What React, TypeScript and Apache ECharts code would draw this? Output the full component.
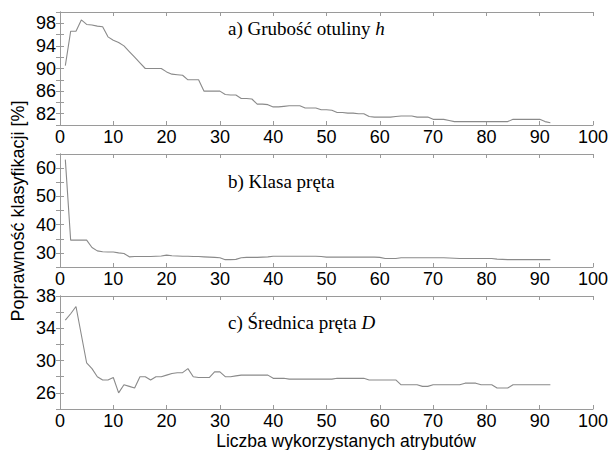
import React, { useEffect, useRef } from "react";
import * as echarts from "echarts";

const xValues = Array.from({ length: 92 }, (_, i) => i + 1);

const seriesA = [
  90.5, 96.6, 96.6, 98.6, 97.8, 97.7, 97.5, 97.4, 95.6, 95.0,
  94.6, 94.0, 93.0, 92.0, 91.0, 90.0, 90.0, 90.0, 90.0, 89.4,
  89.0, 88.9, 88.8, 88.0, 88.0, 88.0, 86.0, 86.0, 86.0, 86.0,
  85.4, 85.3, 85.3, 84.7, 84.7, 84.6, 83.7, 83.7, 83.6, 83.2,
  83.2, 83.3, 83.4, 83.4, 83.4, 83.0, 83.0, 83.0, 82.7, 82.7,
  82.6, 82.2, 82.2, 82.1, 82.1, 82.0, 82.0, 81.5, 81.4, 81.4,
  81.4, 81.4, 81.5, 81.6, 81.6, 81.6, 81.4, 81.4, 81.4, 81.0,
  81.0, 81.0, 80.8, 80.6, 80.6, 80.6, 80.6, 80.6, 80.6, 80.6,
  80.6, 80.6, 80.6, 80.6, 81.0, 81.0, 81.0, 81.0, 81.0, 81.0,
  80.6, 80.4,
];

const seriesB = [
  63.0, 34.5, 34.5, 34.5, 34.5, 31.9, 30.7, 30.4, 30.3, 30.3,
  30.0, 29.8, 28.6, 28.7, 28.7, 28.7, 28.7, 28.8, 28.9, 29.2,
  29.0, 28.9, 28.8, 28.8, 28.7, 28.7, 28.6, 28.5, 28.4, 28.3,
  27.6, 27.6, 27.7, 28.3, 28.4, 28.4, 28.4, 28.5, 28.6, 28.8,
  28.8, 28.8, 28.8, 28.8, 28.8, 28.8, 28.8, 28.8, 28.7, 28.5,
  28.5, 28.5, 28.5, 28.5, 28.5, 28.5, 28.5, 28.5, 28.5, 28.4,
  28.0, 28.0, 28.0, 28.3, 28.3, 28.3, 28.3, 28.3, 28.3, 28.3,
  28.3, 28.3, 28.2, 28.1, 28.0, 28.0, 28.0, 28.0, 28.0, 28.0,
  28.0, 27.8, 27.7, 27.6, 27.6, 27.6, 27.6, 27.6, 27.6, 27.6,
  27.6, 27.6,
];

const seriesC = [
  35.0, 35.8, 36.7, 33.2, 29.7, 29.0, 28.0, 27.6, 27.6, 27.9,
  26.0, 27.0, 26.8, 26.6, 28.0, 28.0, 27.6, 28.0, 28.0, 28.2,
  28.4, 28.5, 28.5, 29.0, 28.0, 27.9, 27.9, 27.9, 28.6, 28.6,
  28.0, 28.0, 28.1, 28.2, 28.2, 28.2, 28.2, 28.2, 28.2, 27.8,
  27.8, 27.8, 27.7, 27.7, 27.7, 27.7, 27.7, 27.7, 27.7, 27.7,
  27.7, 27.8, 27.8, 27.8, 27.8, 27.8, 27.8, 27.6, 27.6, 27.6,
  27.6, 27.6, 27.6, 27.0, 27.0, 27.0, 27.0, 26.8, 26.8, 27.0,
  27.0, 27.0, 27.0, 27.0, 27.0, 27.2, 27.2, 27.2, 27.0, 27.0,
  27.0, 26.6, 26.6, 26.6, 27.0, 27.0, 27.0, 27.0, 27.0, 27.0,
  27.0, 27.0,
];

const panelTitles = ["a) Grubość otuliny ", "b) Klasa pręta", "c) Średnica pręta "];
const panelItalic = ["h", "", "D"];
const yRanges = [
  { min: 80, max: 100, interval: 2, labelStart: 82, labelStep: 4 },
  { min: 25, max: 65, interval: 5, labelStart: 30, labelStep: 10 },
  { min: 24, max: 38, interval: 2, labelStart: 26, labelStep: 4 },
];
const xTitle = "Liczba wykorzystanych atrybutów";
const yTitle = "Poprawność klasyfikacji [%]";

export default function App() {
  const ref = useRef<HTMLDivElement>(null);
  useEffect(() => {
    if (!ref.current) return;
    const chart = echarts.init(ref.current, null, { renderer: "svg" });
    const axisColor = "#9a9a9a";
    const font = "Liberation Sans, Arial, sans-serif";
    const serif = "Liberation Serif, Times New Roman, serif";
    const tops = [12, 154, 296];
    const titleYs = [28, 181, 322];
    const grids = tops.map((t) => ({ left: 60, right: 22, top: t, height: 113 }));
    const datasets = [seriesA, seriesB, seriesC];
    const xAxis: any[] = [];
    const yAxis: any[] = [];
    const series: any[] = [];
    grids.forEach((_, i) => {
      const yr = yRanges[i];
      xAxis.push({
        type: "value", gridIndex: i, min: 0, max: 100, interval: 10, position: "bottom",
        axisLine: { show: true, lineStyle: { color: axisColor } },
        axisTick: { show: true, inside: true, length: 4, lineStyle: { color: axisColor } },
        axisLabel: { color: "#000", fontSize: 18, fontFamily: font, margin: 3 },
        splitLine: { show: false },
      });
      xAxis.push({
        type: "value", gridIndex: i, min: 0, max: 100, interval: 10, position: "top",
        axisLine: { show: true, lineStyle: { color: axisColor } },
        axisTick: { show: true, inside: true, length: 4, lineStyle: { color: axisColor } },
        axisLabel: { show: false },
        splitLine: { show: false },
      });
      yAxis.push({
        type: "value", gridIndex: i, min: yr.min, max: yr.max, interval: yr.interval, position: "left",
        axisLine: { show: true, lineStyle: { color: axisColor } },
        axisTick: { show: true, inside: true, length: 4, lineStyle: { color: axisColor } },
        axisLabel: {
          color: "#000", fontSize: 18, fontFamily: font, margin: 4,
          formatter: (v: number) => {
            const k = Math.round(v * 1000) / 1000;
            return k >= yr.labelStart && Math.abs(((k - yr.labelStart) % yr.labelStep)) < 1e-6 ? String(k) : "";
          },
        },
        splitLine: { show: false },
      });
      yAxis.push({
        type: "value", gridIndex: i, min: yr.min, max: yr.max, interval: yr.interval, position: "right",
        axisLine: { show: true, lineStyle: { color: axisColor } },
        axisTick: { show: true, inside: true, length: 4, lineStyle: { color: axisColor } },
        axisLabel: { show: false },
        splitLine: { show: false },
      });
      series.push({
        type: "line", xAxisIndex: i * 2, yAxisIndex: i * 2, showSymbol: false, symbol: "none",
        data: xValues.map((x, j) => [x, datasets[i][j]]),
        lineStyle: { color: "#8a8a8a", width: 1.1 },
      });
    });
    const titleText = (i: number) => ({
      type: "text", x: 228, y: titleYs[i],
      style: {
        text: panelItalic[i] ? `{n|${panelTitles[i]}}{i|${panelItalic[i]}}` : `{n|${panelTitles[i]}}`,
        rich: {
          n: { fontFamily: serif, fontSize: 19, fill: "#000" },
          i: { fontFamily: serif, fontSize: 19, fontStyle: "italic", fill: "#000" },
        },
        verticalAlign: "middle",
      },
    });
    chart.setOption({
      animation: false,
      backgroundColor: "#fff",
      grid: grids,
      xAxis,
      yAxis,
      series,
      graphic: [
        titleText(0),
        titleText(1),
        titleText(2),
        {
          type: "text", x: 346, y: 441,
          style: { text: xTitle, fontSize: 17.5, fontFamily: font, fill: "#000", align: "center", verticalAlign: "middle" },
        },
        {
          type: "text", x: 18, y: 211, rotation: Math.PI / 2,
          style: { text: yTitle, fontSize: 18, fontFamily: font, fill: "#000", align: "center", verticalAlign: "middle" },
        },
      ],
    });
    return () => chart.dispose();
  }, []);
  return <div ref={ref} style={{ width: 615, height: 450, position: "absolute", left: 0, top: 0 }} />;
}
